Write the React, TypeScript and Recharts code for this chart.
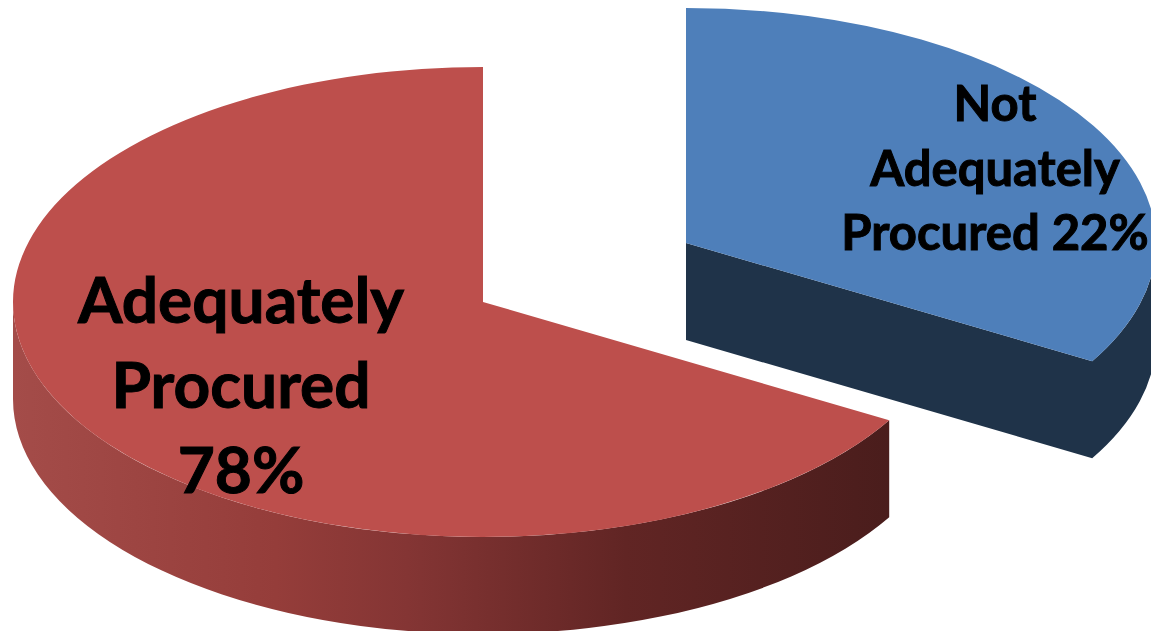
import React from 'react'
import { Pie, PieChart } from 'recharts'

const categories = ['Not Adequately Procured', 'Adequately Procured']
const shares = [22, 78]
const labelLines = [
  ['Not', 'Adequately', 'Procured 22%'],
  ['Adequately', 'Procured', '78%'],
]
const topColors = ['#4e7fba', '#bd4f4c']

const chartData = categories.map((name, i) => ({ name, value: shares[i], fill: topColors[i] }))

// look of the tilted, exploded pie
const SQUASH = 0.5
const DEPTH = 97
const BLUE_SHIFT = { x: 203, y: -59 }
// the picture's foreshortening: the 22/78 boundary shows up at about -30deg rather than 10.8deg
const TRUE_SPLIT = 10.8
const SHOWN_SPLIT = -30.2

const warp = (a: number): number => {
  if (a >= TRUE_SPLIT) return 90 - ((90 - a) * (90 - SHOWN_SPLIT)) / (90 - TRUE_SPLIT)
  return -270 + ((a + 270) * (SHOWN_SPLIT + 270)) / (TRUE_SPLIT + 270)
}

const TiltedSlice = (props: any) => {
  const { cx, cy, outerRadius, startAngle, endAngle, fill, name } = props
  const isBlue = name === categories[0]
  const x0 = cx + (isBlue ? BLUE_SHIFT.x : 0)
  const y0 = cy + (isBlue ? BLUE_SHIFT.y : 0)
  const rx = outerRadius
  const ry = outerRadius * SQUASH

  const pt = (deg: number, drop = 0) => {
    const r = (deg * Math.PI) / 180
    return `${x0 + rx * Math.cos(r)} ${y0 - ry * Math.sin(r) + drop}`
  }
  // clockwise on screen means decreasing angle, so sweep is 1 when going down in angle
  const arc = (from: number, to: number, drop = 0) => {
    const large = Math.abs(to - from) > 180 ? 1 : 0
    const sweep = to < from ? 1 : 0
    return `A ${rx} ${ry} 0 ${large} ${sweep} ${pt(to, drop)}`
  }

  const a0 = warp(startAngle)
  const a1 = warp(endAngle)
  const top = `M ${x0} ${y0} L ${pt(a0)} ${arc(a0, a1)} Z`

  if (isBlue) {
    const wall =
      `M ${x0} ${y0} L ${x0} ${y0 + DEPTH} L ${pt(a1, DEPTH)} ${arc(a1, 0, DEPTH)} ` +
      `L ${pt(0)} ${arc(0, a1)} Z`
    return (
      <g>
        <path d={wall} fill="#1f3349" />
        <path d={top} fill={fill} />
      </g>
    )
  }

  const wall = `M ${pt(a0)} ${arc(a0, -180)} L ${pt(-180, DEPTH)} ${arc(-180, a0, DEPTH)} Z`
  return (
    <g>
      <defs>
        <linearGradient id="redWall" x1="0" y1="0" x2="1" y2="0">
          <stop offset="0%" stopColor="#a44c49" />
          <stop offset="30%" stopColor="#953d3a" />
          <stop offset="45%" stopColor="#843534" />
          <stop offset="70%" stopColor="#612524" />
          <stop offset="100%" stopColor="#4a1d1c" />
        </linearGradient>
      </defs>
      <path d={wall} fill="url(#redWall)" />
      <path d={top} fill={fill} />
    </g>
  )
}

const labelStyles = [
  { x: 995, first: 121, step: 64.5, size: 49 },
  { x: 241, first: 323, step: 85, size: 64 },
]

const SliceLabel = (props: any) => {
  const i = categories.indexOf(props.name)
  const s = labelStyles[i]
  return (
    <g>
      {labelLines[i].map((line, n) => (
        <text
          key={line}
          x={s.x}
          y={s.first + n * s.step}
          textAnchor="middle"
          fontFamily="Lato, 'Open Sans', sans-serif"
          fontWeight={700}
          fontSize={s.size}
          fill="#000"
          stroke="#000"
          strokeWidth={1}
        >
          {line}
        </text>
      ))}
    </g>
  )
}

export default function App() {
  return (
    <div style={{ position: 'absolute', left: 0, top: 0, width: 1151, height: 631, overflow: 'hidden', background: '#fff' }}>
      <PieChart width={1151} height={631} margin={{ top: 0, right: 0, bottom: 0, left: 0 }}>
        <Pie
          data={chartData}
          dataKey="value"
          nameKey="name"
          cx={483}
          cy={302}
          outerRadius={470}
          startAngle={90}
          endAngle={-270}
          stroke="none"
          shape={TiltedSlice}
          label={SliceLabel}
          labelLine={false}
          isAnimationActive={false}
        />
      </PieChart>
    </div>
  )
}
